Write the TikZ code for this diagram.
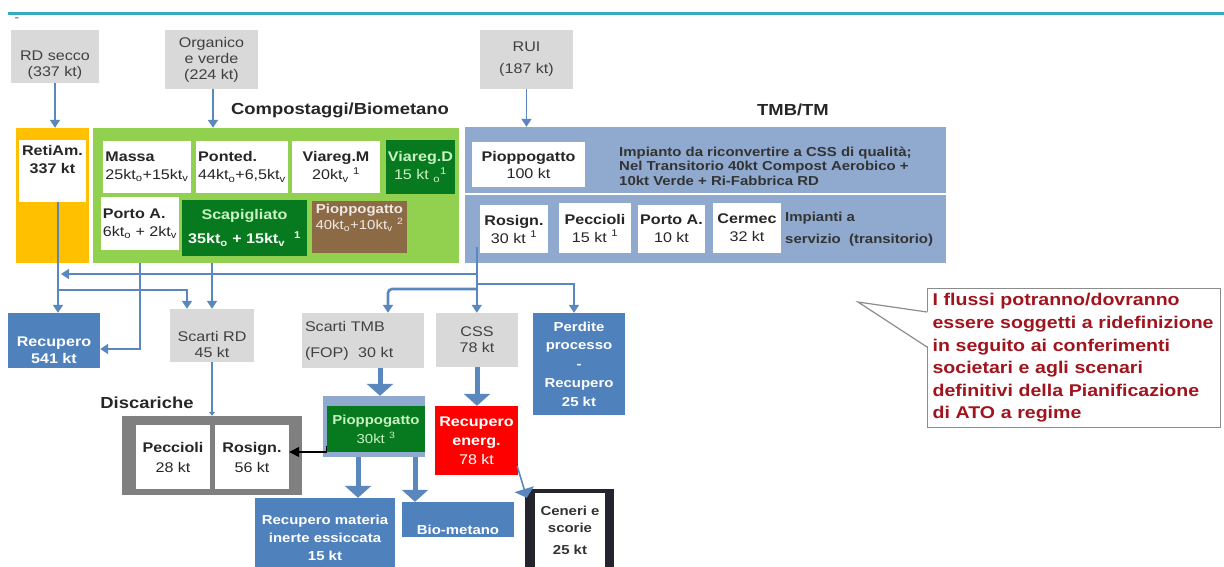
\documentclass[tikz,border=0pt]{standalone}
\usepackage{fontspec}
\setmainfont{Liberation Sans}[FakeStretch=1.15]
\usepackage{xcolor}
\usetikzlibrary{arrows.meta}

\definecolor{ruleC}{HTML}{36ABBF}
\definecolor{greyin}{HTML}{D9D9D9}
\definecolor{orangeR}{HTML}{FFC000}
\definecolor{greenC}{HTML}{92D050}
\definecolor{greenD}{HTML}{077A1F}
\definecolor{greenT}{HTML}{C9F2C2}
\definecolor{brownP}{HTML}{8C6A45}
\definecolor{blueT}{HTML}{8FAACE}
\definecolor{blueR}{HTML}{4F81BD}
\definecolor{flow}{HTML}{5A88BE}
\definecolor{redE}{HTML}{FF0000}
\definecolor{frameC}{HTML}{24242E}
\definecolor{noteRed}{HTML}{A0141E}

\tikzset{
  sz/.style 2 args={minimum width=#1, minimum height=#2},
  box/.style={rectangle, inner sep=2pt, align=center, font=\fontsize{14}{16}\selectfont},
  inbox/.style={box, fill=greyin, text=black!75},
  plant/.style={box, fill=white, text=black!85, font=\fontsize{14}{18}\selectfont},
  darkplant/.style={box, fill=greenD, text=greenT, font=\fontsize{14}{18}\selectfont},
  outbox/.style={box, fill=blueR, text=white, font=\bfseries\fontsize{14}{17}\selectfont},
  title/.style={font=\bfseries\fontsize{16}{18}\selectfont, text=black!85},
  flowarrow/.style={draw=flow, line width=1.6pt, -{Triangle[width=10pt,length=8pt]}},
  bigarrow/.style={draw=flow, line width=5pt, -{Triangle[width=26pt,length=12pt]}},
}

\begin{document}
\begin{tikzpicture}[x=1pt, y=-1pt]
    \useasboundingbox (0,0) rectangle (1224,566);
    \clip (0,0) rectangle (1224,566);

    % Header rule
    \draw[ruleC, line width=3pt] (8,13) -- (1224,13);
    \node[font=\fontsize{12}{12}\selectfont, text=black!70] (dash) at (17,20) {-};

    % Input flows
    \node[inbox, sz={88}{53}] (rdsecco) at (55,56.5) {\strut\\RD secco\\(337 kt)};
    \node[inbox, sz={93}{59}] (organico) at (211.5,59.5) {Organico\\e verde\\(224 kt)};
    \node[inbox, font=\fontsize{14}{22}\selectfont, sz={93}{59}] (rui) at (526.5,59.5) {RUI\\(187 kt)};

    % Section titles
    \node[title] (tcomp) at (340,110) {Compostaggi/Biometano};
    \node[title] (ttmb) at (793,110) {TMB/TM};

    % RetiAm.
    \node[box, fill=orangeR, sz={73}{135}] (orange) at (52.5,195.5) {};
    \node[plant, font=\bfseries\fontsize{14}{18}\selectfont, sz={67}{62}] (retiam) at (52.5,171) {RetiAm.\\337 kt\\\strut};

    % Compostaggi/Biometano plants
    \node[box, fill=greenC, sz={366}{135}] (green) at (276,195.5) {};
    \node[plant, align=left, sz={88}{52}] (massa) at (147,167) {\textbf{Massa}\\25kt\textsubscript{o}+15kt\textsubscript{v}};
    \node[plant, align=left, sz={88}{52}] (ponted) at (242,167) {\textbf{Ponted.}\\44kt\textsubscript{o}+6,5kt\textsubscript{v}};
    \node[plant, sz={88}{52}] (viaregm) at (336,167) {\textbf{Viareg.M}\\20kt\textsubscript{v} \textsuperscript{1}};
    \node[darkplant, sz={69}{54}] (viaregd) at (420.5,167) {\textbf{Viareg.D}\\15 kt \textsubscript{o}\textsuperscript{1}};
    \node[plant, align=left, sz={74}{53}] (portoa) at (140,223.5) {\textbf{Porto A.}\\6kt\textsubscript{o} + 2kt\textsubscript{v}};
    \node[darkplant, font=\bfseries\fontsize{14}{24}\selectfont, sz={125}{56}] (scap) at (244.5,228) {Scapigliato\\\textcolor{white!85!greenT}{35kt\textsubscript{o} + 15kt\textsubscript{v}\ \ \textsuperscript{1}}};
    \node[box, fill=brownP, text=white!85!brownP, font=\fontsize{13}{16}\selectfont, sz={95}{52}] (pioppoc) at (359.5,227) {\textbf{Pioppogatto}\\40kt\textsubscript{o}+10kt\textsubscript{v} \textsuperscript{2}\\\strut};

    % TMB/TM plants
    \node[box, fill=blueT, sz={481}{66}] (tmb1) at (705.5,160) {};
    \node[box, fill=blueT, sz={481}{68}] (tmb2) at (705.5,229) {};
    \node[plant, font=\fontsize{14}{17}\selectfont, sz={113}{45}] (pioppot) at (528.5,164.5) {\textbf{Pioppogatto}\\100 kt};
    \node[box, anchor=west, align=left, font=\bfseries\fontsize{13}{14.5}\selectfont, text=black!80] (tmbnote) at (617,166) {Impianto da riconvertire a CSS di qualità;\\Nel Transitorio 40kt Compost Aerobico +\\10kt Verde + Ri-Fabbrica RD};
    \node[plant, sz={68}{48}] (rosignt) at (514,229) {\textbf{Rosign.}\\30 kt \textsuperscript{1}};
    \node[plant, sz={72}{50}] (peccit) at (595,228) {\textbf{Peccioli}\\15 kt \textsuperscript{1}};
    \node[plant, sz={67}{48}] (portot) at (671.5,229) {\textbf{Porto A.}\\10 kt};
    \node[plant, sz={68}{50}] (cermec) at (747,228) {\textbf{Cermec}\\32 kt};
    \node[box, anchor=west, align=left, font=\bfseries\fontsize{13}{22}\selectfont, text=black!80] (servnote) at (783,229) {Impianti a\\servizio\ \ (transitorio)};

    % Arrows into the plants
    \draw[flowarrow] (rdsecco.south) -- (rdsecco.south |- orange.north);
    \draw[flowarrow] ([xshift=1.5pt]organico.south) -- ([xshift=1.5pt]organico.south |- green.north);
    \draw[flowarrow] (rui.south) -- (rui.south |- tmb1.north);

    % Outputs
    \node[outbox, sz={92}{55}] (recup) at (54,340.5) {\strut\\Recupero\\541 kt};
    \node[inbox, sz={84}{53}] (scartird) at (212,335.5) {\strut\\Scarti RD\\45 kt};
    \node[inbox, font=\fontsize{14}{26}\selectfont, text width=116, align=left, sz={122}{55}] (scartitmb) at (363,340.5) {Scarti TMB\\(FOP)\ \ 30 kt};
    \node[inbox, sz={82}{54}] (css) at (477,340) {CSS\\78 kt};
    \node[outbox, font=\bfseries\fontsize{13}{18.7}\selectfont, sz={92}{102}] (perdite) at (579,364) {Perdite\\processo\\-\\Recupero\\25 kt};

    % Discariche
    \node[title] (tdisc) at (147,403) {Discariche};
    \node[box, fill=black!50, sz={180}{79}] (disc) at (212,455.5) {};
    \node[plant, font=\fontsize{14}{20}\selectfont, sz={74}{64}] (peccd) at (173,457) {\textbf{Peccioli}\\28 kt};
    \node[plant, font=\fontsize{14}{20}\selectfont, sz={74}{64}] (rosignd) at (252,457) {\textbf{Rosign.}\\56 kt};

    % Second stage
    \node[box, fill=blueT, sz={102}{61}] (pioppol) at (374,426.5) {};
    \node[darkplant, font=\fontsize{13}{19}\selectfont, sz={98}{46}] (pioppoin) at (376,429) {\textbf{Pioppogatto}\\30kt \textsuperscript{3}};
    \node[box, fill=redE, text=white, font=\fontsize{14}{19}\selectfont, sz={83}{69}] (red) at (476.5,440.5) {\textbf{Recupero}\\\textbf{energ.}\\78 kt};
    \node[outbox, font=\bfseries\fontsize{13}{18}\selectfont, sz={140}{80}] (recmat) at (325,538) {Recupero materia\\inerte essiccata\\15 kt};
    \node[outbox, font=\bfseries\fontsize{13}{18}\selectfont, sz={112}{35}] (biomet) at (458,519.5) {\strut\\Bio-metano};
    \node[box, fill=frameC, sz={89}{78}] (ceneri) at (569.5,528) {};
    \node[box, fill=white, text=black!80, font=\bfseries\fontsize{13}{17}\selectfont, sz={70}{74}] (cenerin) at (570,530) {Ceneri e\\scorie\\[5pt]25 kt};

    % Flows from RetiAm. and Compostaggi
    \draw[flowarrow] ([xshift=5.5pt]retiam.south) -- ([xshift=5.5pt]retiam.south |- recup.north);
    \coordinate (jrd) at (58,290);
    \draw[flowarrow] (jrd) -| ([xshift=-25pt]scartird.north);
    \draw[flowarrow] (portoa |- green.south) |- ([yshift=-8.5pt]recup.east);
    \draw[flowarrow] (scartird.north |- green.south) -- (scartird.north);

    % Flows from TMB
    \coordinate (tmbout) at ([xshift=-3pt,yshift=6pt]rosignt.south west);
    \coordinate (jleft) at (61,274);
    \coordinate (jright) at (477,284);
    \coordinate (jfop) at (477,289);
    \draw[flowarrow] (tmbout) -- (tmbout |- css.north);
    \draw[flowarrow] (tmbout |- jleft) -- (jleft);
    \draw[flowarrow] (jright) -| ([xshift=-5pt]perdite.north);
    \draw[flowarrow, line width=2.6pt, rounded corners=4pt] (jfop) -| ([xshift=25pt]scartitmb.north);

    % Second stage flows
    \draw[bigarrow] ([xshift=17pt]scartitmb.south) -- ([xshift=17pt]scartitmb.south |- pioppol.north);
    \draw[bigarrow] (css.south) -- (css.south |- red.north);
    \draw[draw=flow, line width=1.6pt, -{Triangle[width=6pt,length=4pt]}] (scartird.south) -- (scartird.south |- disc.north);
    \draw[bigarrow] ([xshift=-16pt]pioppol.south) -- ([xshift=-16pt]pioppol.south |- recmat.north);
    \draw[bigarrow] ([xshift=41pt]pioppol.south) -- ([xshift=41pt]pioppol.south |- biomet.north);
    \draw[black, line width=1.3pt, -{Triangle[width=10pt,length=10pt]}] ([yshift=6pt]pioppoin.south west) |- ([yshift=5pt]rosignd.east);
    \draw[draw=flow, line width=1.6pt, -{Triangle[width=20pt,length=9pt]}] ([xshift=-1pt,yshift=9pt]red.south east) -- ([xshift=2pt,yshift=-9pt]ceneri.north west);

    % Note
    \node[anchor=north west, draw=black!45, line width=1.2pt, fill=white, text width=283, align=left, inner sep=5pt, minimum height=139, font=\bfseries\fontsize{17}{22.6}\selectfont, text=noteRed] (note) at (927,288) {I flussi potranno/dovranno\\essere soggetti a ridefinizione\\in seguito ai conferimenti\\societari e agli scenari\\definitivi della Pianificazione\\di ATO a regime};
    \coordinate (tip) at (858,302);
    \fill[white] (929,312) -- (tip) -- (929,347) -- cycle;
    \draw[black!45, line width=1.2pt] (927,312) -- (tip) -- (927,347);
\end{tikzpicture}
\end{document}
